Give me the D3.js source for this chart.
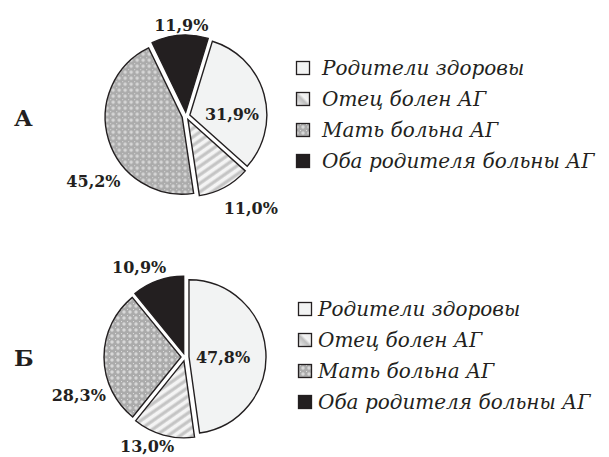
<!DOCTYPE html>
<html>
<head>
<meta charset="utf-8">
<script src="https://cdn.jsdelivr.net/npm/d3@7"></script>
<style>
  html, body { margin: 0; padding: 0; background: #fff; }
  svg { display: block; }
</style>
</head>
<body>
<div id="chart"></div>
<script>
// categories (same in both panels)
const categories = ['Родители здоровы', 'Отец болен АГ', 'Мать больна АГ', 'Оба родителя больны АГ'];
const panelNames = ['А', 'Б'];
// percent values, panel А and panel Б
const valuesA = [31.9, 11.0, 45.2, 11.9];
const valuesB = [47.8, 13.0, 28.3, 10.9];
const labelsA = ['31,9%', '11,0%', '45,2%', '11,9%'];
const labelsB = ['47,8%', '13,0%', '28,3%', '10,9%'];

const W = 609, H = 457;
const svg = d3.select('#chart').append('svg')
  .attr('width', W).attr('height', H);

const ink = '#231f20';

// --- Patterns ---
const defs = svg.append('defs');

const stripes = defs.append('pattern')
  .attr('id', 'stripes')
  .attr('patternUnits', 'userSpaceOnUse')
  .attr('width', 8).attr('height', 7)
  .attr('patternTransform', 'rotate(-35)');
stripes.append('rect').attr('width', 8).attr('height', 7).attr('fill', '#f4f4f4');
stripes.append('rect').attr('y', 1.5).attr('width', 8).attr('height', 3.2).attr('fill', '#c4c4c4');

const lattice = defs.append('pattern')
  .attr('id', 'lattice')
  .attr('patternUnits', 'userSpaceOnUse')
  .attr('width', 6).attr('height', 6);
lattice.append('rect').attr('width', 6).attr('height', 6).attr('fill', '#ababab');
lattice.append('circle').attr('cx', 3).attr('cy', 3).attr('r', 1.7).attr('fill', '#d8d8d8');
lattice.append('rect').attr('x', 0).attr('y', 0).attr('width', 1).attr('height', 1).attr('fill', '#dcdcdc');

// little gradient for the legend swatch of the striped slice
const grad = defs.append('linearGradient')
  .attr('id', 'swatchStripe')
  .attr('x1', '0').attr('y1', '1').attr('x2', '1').attr('y2', '0');
grad.append('stop').attr('offset', '0%').attr('stop-color', '#f2f2f2');
grad.append('stop').attr('offset', '45%').attr('stop-color', '#bdbdbd');
grad.append('stop').attr('offset', '60%').attr('stop-color', '#f4f4f4');
grad.append('stop').attr('offset', '100%').attr('stop-color', '#e6e6e6');

const fills = ['#f2f3f3', 'url(#stripes)', 'url(#lattice)', ink];
const swatchFills = ['#f2f3f3', 'url(#swatchStripe)', 'url(#lattice)', ink];

const panels = [
  { name: panelNames[0], values: valuesA, labels: labelsA, cx: 186, cy: 116, start: 17,
    nameY: 126, legendX: 296, textX: 322, legendY: 68,
    // label placement, polar [deg clockwise from top, distance] from pie centre
    labelPos: [[88, 46], [145, 113], [235, 113], [-3, 91]] },
  { name: panelNames[1], values: valuesB, labels: labelsB, cx: 185, cy: 357, start: 0,
    nameY: 366, legendX: 298, textX: 318, legendY: 309,
    labelPos: [[90, 38], [203, 97], [250, 113], [333, 101]] }
];

const r = 77;
const explode = 4;
const arc = d3.arc().innerRadius(0).outerRadius(r);
const rad = Math.PI / 180;

panels.forEach(p => {
  const pie = d3.pie().sort(null)
    .startAngle(p.start * rad)
    .endAngle(p.start * rad + 2 * Math.PI);
  const arcs = pie(p.values);

  const g = svg.append('g').attr('transform', `translate(${p.cx},${p.cy})`);

  g.selectAll('path.slice')
    .data(arcs)
    .enter().append('path')
    .attr('class', 'slice')
    .attr('transform', d => {
      const a = (d.startAngle + d.endAngle) / 2;
      return `translate(${explode * Math.sin(a)},${-explode * Math.cos(a)})`;
    })
    .attr('d', arc)
    .attr('fill', (d, i) => fills[i])
    .attr('stroke', ink)
    .attr('stroke-width', 1.4)
    .attr('stroke-linejoin', 'miter');

  g.selectAll('text.pct')
    .data(arcs)
    .enter().append('text')
    .attr('class', 'pct')
    .attr('x', (d, i) => p.labelPos[i][1] * Math.sin(p.labelPos[i][0] * rad))
    .attr('y', (d, i) => -p.labelPos[i][1] * Math.cos(p.labelPos[i][0] * rad))
    .attr('dy', '0.36em')
    .attr('text-anchor', 'middle')
    .style('font-family', '"DejaVu Serif", serif')
    .style('font-weight', 'bold')
    .style('font-size', '16px')
    .attr('fill', ink)
    .text((d, i) => p.labels[i]);

  // panel letter
  svg.append('text')
    .attr('x', 14).attr('y', p.nameY)
    .style('font-family', '"DejaVu Serif", serif')
    .style('font-weight', 'bold')
    .style('font-size', '23px')
    .attr('fill', ink)
    .text(p.name);

  // legend
  const rowH = 31, box = 13;
  const leg = svg.append('g');
  const rows = leg.selectAll('g.row')
    .data(categories)
    .enter().append('g')
    .attr('class', 'row')
    .attr('transform', (d, i) => `translate(0,${p.legendY + i * rowH})`);
  rows.append('rect')
    .attr('x', p.legendX + 0.5).attr('y', -box / 2)
    .attr('width', box).attr('height', box)
    .attr('fill', (d, i) => swatchFills[i])
    .attr('stroke', ink)
    .attr('stroke-width', 1.3);
  rows.append('text')
    .attr('x', p.textX).attr('y', 0)
    .attr('dy', '0.35em')
    .style('font-family', '"DejaVu Serif", serif')
    .style('font-style', 'italic')
    .style('font-size', '20px')
    .attr('fill', ink)
    .text(d => d);
});
</script>
</body>
</html>
